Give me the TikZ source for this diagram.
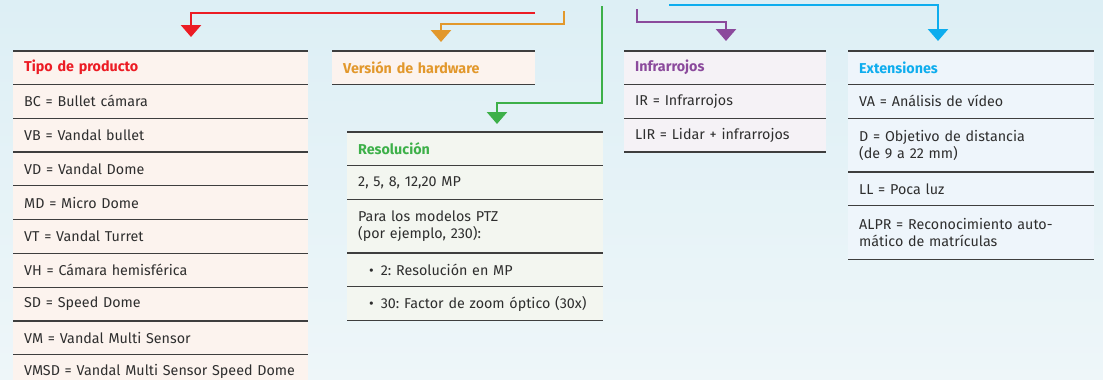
\documentclass[tikz,border=0pt]{standalone}
\usepackage{fontspec}
\setmainfont{Fira Sans}[WordSpace=0.85]
\frenchspacing
\usetikzlibrary{arrows.meta, positioning}

\definecolor{tipored}{HTML}{EC1C24}
\definecolor{hworange}{HTML}{E2982C}
\definecolor{resgreen}{HTML}{3DB049}
\definecolor{irpurple}{HTML}{8B4A9C}
\definecolor{extblue}{HTML}{0EADEE}
\definecolor{peachfill}{HTML}{FCF3EE}
\definecolor{greenfill}{HTML}{F3F6F0}
\definecolor{lilacfill}{HTML}{F5F2F6}
\definecolor{bluefill}{HTML}{EEF5FB}
\definecolor{rulegray}{HTML}{3E3E3E}
\definecolor{textgray}{HTML}{2E2E2E}
\definecolor{bgtop}{HTML}{DDEFF5}
\definecolor{bgbottom}{HTML}{EEF6F9}

\tikzset{
  cell/.style={rectangle, inner xsep=11pt, inner ysep=0pt, minimum height=33.4pt,
    align=left, text=textgray, font=\fontsize{14.3}{17}\selectfont},
  twoline/.style={minimum height=53.4pt},
  head/.style={font=\fontsize{14.3}{17}\selectfont\bfseries, minimum height=33pt},
  tipocell/.style={cell, fill=peachfill, text width=273pt},
  hwcell/.style={cell, fill=peachfill, text width=181pt},
  rescell/.style={cell, fill=greenfill, text width=234pt},
  ircell/.style={cell, fill=lilacfill, text width=180pt},
  extcell/.style={cell, fill=bluefill, text width=224pt},
  rowrule/.style={draw=rulegray, line width=1.2pt},
  link/.style={line width=2.7pt, -{Triangle[width=20pt,length=12pt]}},
}

\begin{document}
\begin{tikzpicture}[x=1pt, y=-1pt]
  \useasboundingbox (0,0) rectangle (1103,380);
  \shade[top color=bgtop, bottom color=bgbottom] (0,0) rectangle (1103,380);

  % Tipo de producto
  \node[tipocell, head, text=tipored, anchor=north west] (tp0) at (13,51) {Tipo de producto};
  \node[tipocell, below=0pt of tp0] (tp1) {BC = Bullet cámara};
  \node[tipocell, below=0pt of tp1] (tp2) {VB = Vandal bullet};
  \node[tipocell, below=0pt of tp2] (tp3) {VD = Vandal Dome};
  \node[tipocell, below=0pt of tp3] (tp4) {MD = Micro Dome};
  \node[tipocell, below=0pt of tp4] (tp5) {VT = Vandal Turret};
  \node[tipocell, below=0pt of tp5] (tp6) {VH = Cámara hemisférica};
  \node[tipocell, below=0pt of tp6] (tp7) {SD = Speed Dome};
  \node[tipocell, below=0pt of tp7] (tp8) {VM = Vandal Multi Sensor};
  \node[tipocell, below=0pt of tp8] (tp9) {\mbox{VMSD = Vandal Multi Sensor Speed Dome}};

  % Version de hardware
  \node[hwcell, head, text=hworange, anchor=north west] (hw0) at (332,51) {Versión de hardware};

  % Resolucion
  \node[rescell, head, text=resgreen, anchor=north west] (rs0) at (347,132) {Resolución};
  \node[rescell, below=0pt of rs0] (rs1) {2, 5, 8, 12,20 MP};
  \node[rescell, twoline, below=0pt of rs1] (rs2) {Para los modelos PTZ\\(por ejemplo, 230):};
  \node[rescell, below=0pt of rs2] (rs3) {\hspace*{11pt}\textbullet\hspace{7pt}2: Resolución en MP};
  \node[rescell, below=0pt of rs3] (rs4) {\hspace*{11pt}\textbullet\hspace{7pt}30: Factor de zoom óptico (30x)};

  % Infrarrojos
  \node[ircell, head, text=irpurple, anchor=north west] (ir0) at (624,51) {Infrarrojos};
  \node[ircell, below=0pt of ir0] (ir1) {IR = Infrarrojos};
  \node[ircell, below=0pt of ir1] (ir2) {LIR = Lidar + infrarrojos};

  % Extensiones
  \node[extcell, head, text=extblue, anchor=north west] (ex0) at (848,51) {Extensiones};
  \node[extcell, below=0pt of ex0] (ex1) {VA = Análisis de vídeo};
  \node[extcell, twoline, below=0pt of ex1] (ex2) {D = Objetivo de distancia\\(de 9 a 22 mm)};
  \node[extcell, below=0pt of ex2] (ex3) {LL = Poca luz};
  \node[extcell, twoline, below=0pt of ex3] (ex4) {ALPR = Reconocimiento auto-\\mático de matrículas};

  % rules between rows
  \foreach \n in {0,...,9}
    \draw[rowrule] (tp\n.north west) -- (tp\n.north east);
  \draw[rowrule] (tp9.south west) -- (tp9.south east);
  \draw[rowrule] (hw0.north west) -- (hw0.north east);
  \draw[rowrule] (hw0.south west) -- (hw0.south east);
  \foreach \n in {0,...,4}
    \draw[rowrule] (rs\n.north west) -- (rs\n.north east);
  \draw[rowrule] (rs4.south west) -- (rs4.south east);
  \foreach \n in {0,...,2}
    \draw[rowrule] (ir\n.north west) -- (ir\n.north east);
  \draw[rowrule] (ir2.south west) -- (ir2.south east);
  \foreach \n in {0,...,4}
    \draw[rowrule] (ex\n.north west) -- (ex\n.north east);
  \draw[rowrule] (ex4.south west) -- (ex4.south east);

  % connectors
  \coordinate (redstart) at (535,13);
  \coordinate (orangestart) at (564,11);
  \coordinate (orangebend) at (564,24);
  \coordinate (greenstart) at (602,6);
  \coordinate (greenbend) at (602,103);
  \coordinate (purplestart) at (637,9);
  \coordinate (purplebend) at (637,22);
  \coordinate (bluestart) at (669,5);

  \draw[link, tipored] (redstart) -| ([xshift=178pt, yshift=14pt]tp0.north west);
  \draw[link, hworange] (orangestart) -- (orangebend) -| ([xshift=109pt, yshift=9pt]hw0.north west);
  \draw[link, resgreen] (greenstart) -- (greenbend) -| ([xshift=150pt, yshift=8pt]rs0.north west);
  \draw[link, irpurple] (purplestart) -- (purplebend) -| ([xshift=102pt, yshift=10pt]ir0.north west);
  \draw[link, extblue] (bluestart) -| ([xshift=90pt, yshift=10pt]ex0.north west);
\end{tikzpicture}
\end{document}
